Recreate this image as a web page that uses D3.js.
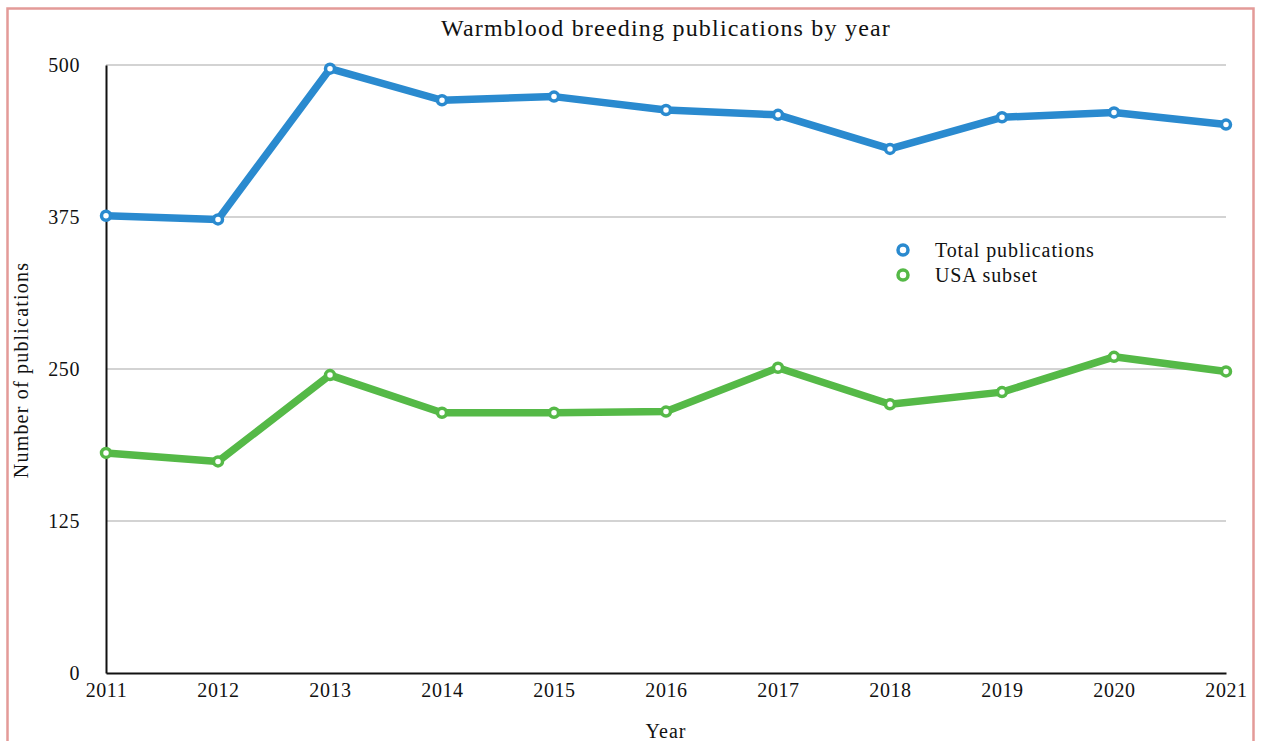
<!DOCTYPE html>
<html lang="en">
<head>
	<meta charset="utf-8">
	<title>Warmblood breeding publications by year</title>
	<script src="https://cdn.jsdelivr.net/npm/d3@7"></script>
	<style>
		body { margin: 0; background: #fff; }
		svg text { font-family: "Liberation Serif", "DejaVu Serif", serif; fill: #111; }
	</style>
</head>
<body>
	<div id="chart"></div>
	<script>
		// data
		const years = [2011, 2012, 2013, 2014, 2015, 2016, 2017, 2018, 2019, 2020, 2021];
		const totalPubs = [376, 373, 497, 471, 474, 463, 459, 431, 457, 461, 451];
		const usaPubs = [181, 174, 245, 214, 214, 215, 251, 221, 231, 260, 248];
		const yTicks = [0, 125, 250, 375, 500];
		const seriesNames = ["Total publications", "USA subset"];
		const seriesColors = ["#2a8acf", "#55b947"];

		const W = 1261, H = 741;
		const margin = {top: 65, right: 35, bottom: 68, left: 106};
		const width = W - margin.left - margin.right,
			height = H - margin.top - margin.bottom;

		const svg = d3.select("#chart").append("svg")
			.attr("width", W)
			.attr("height", H);

		// frame round the chart (no bottom edge visible)
		svg.append("path")
			.attr("d", "M7.5,745 V8.5 H1253.5 V745")
			.attr("fill", "none")
			.attr("stroke", "#e39b98")
			.attr("stroke-width", 2.5);

		const g = svg.append("g")
			.attr("transform", "translate(" + margin.left + "," + margin.top + ")");

		const x = d3.scaleLinear().domain([2011, 2021]).range([0, width]);
		const y = d3.scaleLinear().domain([0, 500]).range([height, 0]);

		// gridlines
		g.append("g")
			.selectAll("line")
			.data(yTicks.filter(d => d > 0))
			.join("line")
			.attr("x1", 0).attr("x2", width)
			.attr("y1", d => y(d)).attr("y2", d => y(d))
			.attr("stroke", "#c4c4c4")
			.attr("stroke-width", 1.5);

		// y axis
		const yAxis = g.append("g")
			.call(d3.axisLeft(y).tickValues(yTicks).tickSize(0).tickPadding(26).tickFormat(d3.format("d")));
		yAxis.select(".domain").attr("stroke", "#111").attr("stroke-width", 2);
		yAxis.selectAll("text").attr("font-size", 20).attr("letter-spacing", 0.6).attr("dy", "0.32em");

		// x axis
		const xAxis = g.append("g")
			.attr("transform", "translate(0," + height + ")")
			.call(d3.axisBottom(x).tickValues(years).tickSize(0).tickPadding(10).tickFormat(d3.format("d")));
		xAxis.select(".domain").attr("stroke", "#111").attr("stroke-width", 2);
		xAxis.selectAll("text").attr("font-size", 20).attr("letter-spacing", 0.6);

		// lines
		const line = d3.line()
			.x((d, i) => x(years[i]))
			.y(d => y(d));

		[totalPubs, usaPubs].forEach((vals, k) => {
			g.append("path")
				.datum(vals)
				.attr("fill", "none")
				.attr("stroke", seriesColors[k])
				.attr("stroke-width", 7.5)
				.attr("stroke-linejoin", "round")
				.attr("d", line);

			g.append("g")
				.selectAll("circle")
				.data(vals)
				.join("circle")
				.attr("cx", (d, i) => x(years[i]))
				.attr("cy", d => y(d))
				.attr("r", 4.5)
				.attr("fill", "#fff")
				.attr("stroke", seriesColors[k])
				.attr("stroke-width", 3.5);
		});

		// title
		svg.append("text")
			.attr("x", 666)
			.attr("y", 36)
			.attr("text-anchor", "middle")
			.attr("font-size", 24)
			.attr("letter-spacing", 1.2)
			.text("Warmblood breeding publications by year");

		// axis titles
		svg.append("text")
			.attr("x", 666)
			.attr("y", 738)
			.attr("text-anchor", "middle")
			.attr("font-size", 20)
			.attr("letter-spacing", 1)
			.text("Year");

		svg.append("text")
			.attr("transform", "translate(28,370) rotate(-90)")
			.attr("text-anchor", "middle")
			.attr("font-size", 20)
			.attr("letter-spacing", 1.2)
			.text("Number of publications");

		// legend
		const legend = svg.append("g")
			.attr("transform", "translate(903,250)");
		seriesNames.forEach((name, k) => {
			const row = legend.append("g").attr("transform", "translate(0," + (k * 25) + ")");
			row.append("circle")
				.attr("r", 5)
				.attr("fill", "#fff")
				.attr("stroke", seriesColors[k])
				.attr("stroke-width", 3.5);
			row.append("text")
				.attr("x", 32)
				.attr("dy", "0.35em")
				.attr("font-size", 20)
				.attr("letter-spacing", 0.9)
				.text(name);
		});
	</script>
</body>
</html>
